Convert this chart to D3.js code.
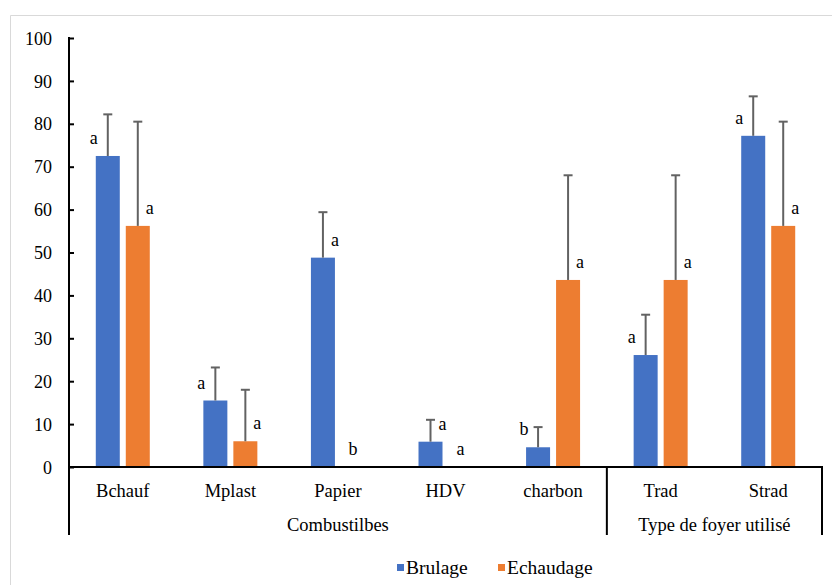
<!DOCTYPE html>
<html>
<head>
<meta charset="utf-8">
<script src="https://cdn.jsdelivr.net/npm/d3@7"></script>
<style>
  html, body { margin: 0; padding: 0; background: #fff; }
  svg { display: block; }
  text { font-family: "Liberation Serif", "Times New Roman", serif; fill: #000; }
</style>
</head>
<body>
<svg id="chart" width="832" height="585"></svg>
<script>
const categories = ["Bchauf", "Mplast", "Papier", "HDV", "charbon", "Trad", "Strad"];
const series = ["Brulage", "Echaudage"];
const brulage = [72.5, 15.5, 48.8, 5.9, 4.6, 26.1, 77.2];
const echaudage = [56.2, 6.0, 0, 0, 43.6, 43.6, 56.2];
const brulageErrTop = [82.2, 23.2, 59.4, 11.0, 9.3, 35.5, 86.4];
const echaudageErrTop = [80.5, 18.0, null, null, 68.0, 68.0, 80.5];
const brulageLetters = ["a", "a", "a", "a", "b", "a", "a"];
const echaudageLetters = ["a", "a", "b", "a", "a", "a", "a"];
const brulageLetterSide = ["left", "left", "right", "right", "left", "left", "left"];
const echaudageLetterSide = ["right", "right", "center", "center", "right", "right", "right"];
const groupNames = ["Combustilbes", "Type de foyer utilisé"];
const groupCategories = [["Bchauf", "Mplast", "Papier", "HDV", "charbon"], ["Trad", "Strad"]];
const yTicks = [0, 10, 20, 30, 40, 50, 60, 70, 80, 90, 100];
const colors = ["#4472C4", "#ED7D31"];

(function () {
const svg = d3.select("#chart");

// outer chart border (light gray)
svg.append("path")
  .attr("d", "M10.5,600 L10.5,15.5 L840,15.5")
  .attr("fill", "none").attr("stroke", "#d9d9d9").attr("stroke-width", 1);

const pLeft = 69, pRight = 822, pTop = 38, pBase = 467;
const x = d3.scaleBand().domain(categories).range([pLeft, pRight]).padding(0);
const xs = d3.scaleBand().domain(series).range([0, x.bandwidth()]).paddingInner(0.2).paddingOuter(0.893);
const y = d3.scaleLinear().domain([0, 100]).range([pBase, pTop]);
const color = d3.scaleOrdinal().domain(series).range(colors);

const rows = categories.map((c, i) => ({
  cat: c,
  vals: [
    {s: series[0], v: brulage[i], e: brulageErrTop[i], l: brulageLetters[i], side: brulageLetterSide[i]},
    {s: series[1], v: echaudage[i], e: echaudageErrTop[i], l: echaudageLetters[i], side: echaudageLetterSide[i]}
  ]
}));

const g = svg.append("g").selectAll("g").data(rows).join("g")
  .attr("transform", d => `translate(${x(d.cat)},0)`);

g.selectAll("rect").data(d => d.vals).join("rect")
  .attr("x", d => xs(d.s))
  .attr("width", xs.bandwidth())
  .attr("y", d => y(d.v))
  .attr("height", d => y(0) - y(d.v))
  .attr("fill", d => color(d.s));

// error bars
const eb = g.selectAll("g.err").data(d => d.vals.filter(v => v.e != null)).join("g").attr("class", "err");
eb.append("line")
  .attr("x1", d => xs(d.s) + xs.bandwidth() / 2).attr("x2", d => xs(d.s) + xs.bandwidth() / 2)
  .attr("y1", d => y(d.v)).attr("y2", d => y(d.e))
  .attr("stroke", "#626262").attr("stroke-width", 2);
eb.append("line")
  .attr("x1", d => xs(d.s) + xs.bandwidth() / 2 - 4.5).attr("x2", d => xs(d.s) + xs.bandwidth() / 2 + 4.5)
  .attr("y1", d => y(d.e)).attr("y2", d => y(d.e))
  .attr("stroke", "#626262").attr("stroke-width", 2);

// letters
const sideDx = {left: -14, right: 12, center: 0};
g.selectAll("text.lt").data(d => d.vals).join("text").attr("class", "lt")
  .attr("x", d => xs(d.s) + xs.bandwidth() / 2 + sideDx[d.side])
  .attr("y", d => y(d.v) - 12)
  .attr("text-anchor", "middle")
  .style("font-size", "18px")
  .text(d => d.l);

// y axis
const yAxis = d3.axisLeft(y).tickValues(yTicks).tickSize(-5).tickPadding(17);
const ya = svg.append("g").attr("transform", `translate(${pLeft},0)`).call(yAxis);
ya.select(".domain").remove();
ya.selectAll(".tick line").attr("stroke", "#000").attr("stroke-width", 2);
ya.selectAll(".tick text").style("font-size", "18px").style("font-family", '"Liberation Serif", serif').attr("dy", "0.34em");
svg.append("line").attr("x1", pLeft).attr("x2", pLeft).attr("y1", pTop - 1).attr("y2", 535)
  .attr("stroke", "#000").attr("stroke-width", 2);

// x axis
const xAxis = d3.axisBottom(x).tickSize(0).tickPadding(0);
const xa = svg.append("g").attr("transform", `translate(0,${pBase})`).call(xAxis);
xa.select(".domain").remove();
xa.selectAll(".tick text").style("font-size", "18.5px").style("font-family", '"Liberation Serif", serif')
  .attr("dy", null).attr("y", 30);
svg.append("line").attr("x1", pLeft - 1).attr("x2", pRight + 1).attr("y1", pBase).attr("y2", pBase)
  .attr("stroke", "#000").attr("stroke-width", 2);

// group separators and labels
groupCategories.forEach((cats, gi) => {
  const x0 = x(cats[0]);
  const x1 = x(cats[cats.length - 1]) + x.bandwidth();
  svg.append("line").attr("x1", x1).attr("x2", x1).attr("y1", pBase).attr("y2", 535)
    .attr("stroke", "#000").attr("stroke-width", 2);
  svg.append("text").attr("x", (x0 + x1) / 2).attr("y", 531)
    .attr("text-anchor", "middle").style("font-size", "18.5px")
    .text(groupNames[gi]);
});

// legend
const legendX = [397, 498];
const lg = svg.append("g").selectAll("g").data(series).join("g")
  .attr("transform", (d, i) => `translate(${legendX[i]},0)`);
lg.append("rect").attr("x", 0).attr("y", 564).attr("width", 7).attr("height", 7).attr("fill", d => color(d));
lg.append("text").attr("x", 9).attr("y", 574).style("font-size", "19.5px").text(d => d);
})();
</script>
</body>
</html>
